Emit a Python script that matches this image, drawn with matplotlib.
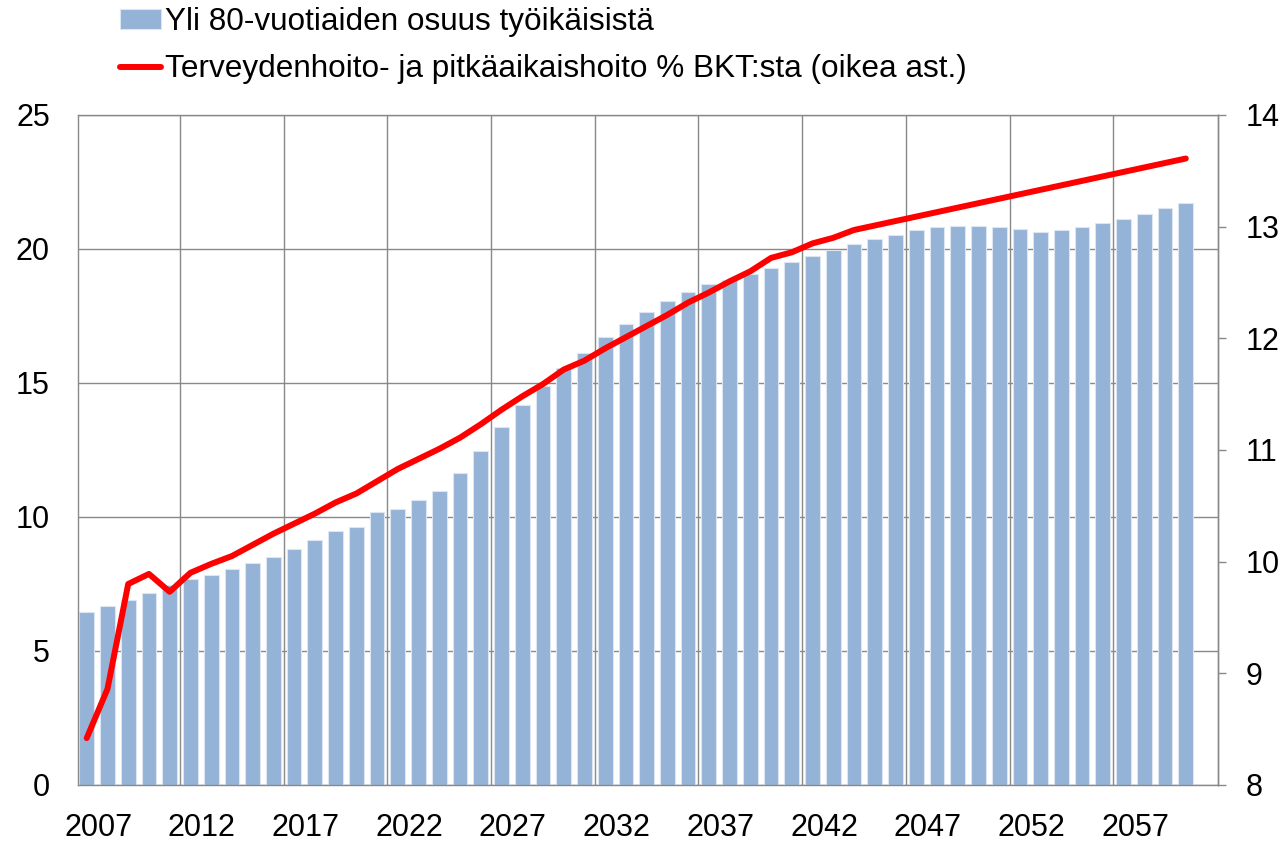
import matplotlib
matplotlib.use('Agg')
import matplotlib.pyplot as plt
from matplotlib import font_manager
import numpy as np

plt.rcParams['font.family'] = ['Liberation Sans', 'DejaVu Sans']

# Data
years = list(range(2007, 2061))

# Yli 80-vuotiaiden osuus työikäisistä (left axis, %)
share_80 = [6.46, 6.68, 6.90, 7.18, 7.45, 7.67, 7.85, 8.07, 8.30, 8.52,
            8.79, 9.13, 9.47, 9.63, 10.19, 10.29, 10.63, 10.97, 11.63, 12.46,
            13.36, 14.18, 14.90, 15.57, 16.13, 16.73, 17.19, 17.64, 18.07, 18.41,
            18.69, 18.84, 19.08, 19.29, 19.51, 19.74, 19.98, 20.19, 20.36, 20.52,
            20.70, 20.81, 20.86, 20.86, 20.81, 20.75, 20.63, 20.70, 20.81, 20.97,
            21.13, 21.31, 21.53, 21.70]

# Terveydenhoito- ja pitkäaikaishoito % BKT:sta (right axis)
health_gdp = [8.42, 8.86, 9.80, 9.89, 9.73, 9.90, 9.98, 10.05, 10.15, 10.25,
              10.34, 10.43, 10.53, 10.61, 10.72, 10.83, 10.92, 11.01, 11.11, 11.23,
              11.36, 11.48, 11.59, 11.72, 11.80, 11.91, 12.01, 12.11, 12.21, 12.32,
              12.41, 12.51, 12.60, 12.72, 12.77, 12.85, 12.90, 12.97, 13.01, 13.05,
              13.09, 13.13, 13.17, 13.21, 13.25, 13.29, 13.33, 13.37, 13.41, 13.45,
              13.49, 13.53, 13.57, 13.61]

bar_label = 'Yli 80-vuotiaiden osuus työikäisistä'
line_label = 'Terveydenhoito- ja pitkäaikaishoito % BKT:sta (oikea ast.)'

grid_color = '#898989'

fig = plt.figure(figsize=(12.87, 8.41), dpi=100)
ax = fig.add_axes([0.0604, 0.0666, 0.8862, 0.7967])

x = np.arange(len(years))
bars = ax.bar(x, share_80, width=0.71, color='#95B3D7', edgecolor='#DCE6F2',
              linewidth=0.8, zorder=2)

ax.set_xlim(-0.434, len(years) + 0.566)
ax.set_ylim(0, 25)
ax.set_yticks([0, 5, 10, 15, 20, 25])

# gridlines between categories, labels every 5 years
ax.set_xticks(np.arange(4.5, 50, 5))
ax.set_xticklabels([])
ax.set_xticks(x[::5] + 0.55, minor=True)
ax.set_xticklabels([str(y) for y in years[::5]], minor=True)
ax.tick_params(axis='x', which='both', length=0)
ax.tick_params(axis='x', which='minor', pad=20, labelsize=22)
ax.tick_params(axis='y', length=0, pad=20, labelsize=22)
ax.grid(True, which='major', color=grid_color, linewidth=1.0)
ax.set_axisbelow(True)
for s in ax.spines.values():
    s.set_color(grid_color)
    s.set_linewidth(1.0)

ax2 = ax.twinx()
line, = ax2.plot(x, health_gdp, color='#FF0000', lw=4.3,
                 solid_capstyle='round', solid_joinstyle='round')
ax2.set_ylim(8, 14)
ax2.set_yticks(range(8, 15))
ax2.tick_params(axis='y', direction='out', length=6, width=1.0,
                color=grid_color, pad=14, labelsize=22)
for name, s in ax2.spines.items():
    s.set_visible(name == 'right')
    s.set_color(grid_color)
    s.set_linewidth(1.0)

leg_font = font_manager.FontProperties(family='Liberation Sans', size=22.7)

fig.legend([bars, line], [bar_label, line_label], loc='upper left',
           bbox_to_anchor=(120 / 1287, 1 - 7 / 841), frameon=False,
           borderpad=0, borderaxespad=0, handlelength=1.3, handleheight=0.57,
           handletextpad=0.12, labelspacing=0.55, prop=leg_font)

fig.savefig('out.png', dpi=100)
